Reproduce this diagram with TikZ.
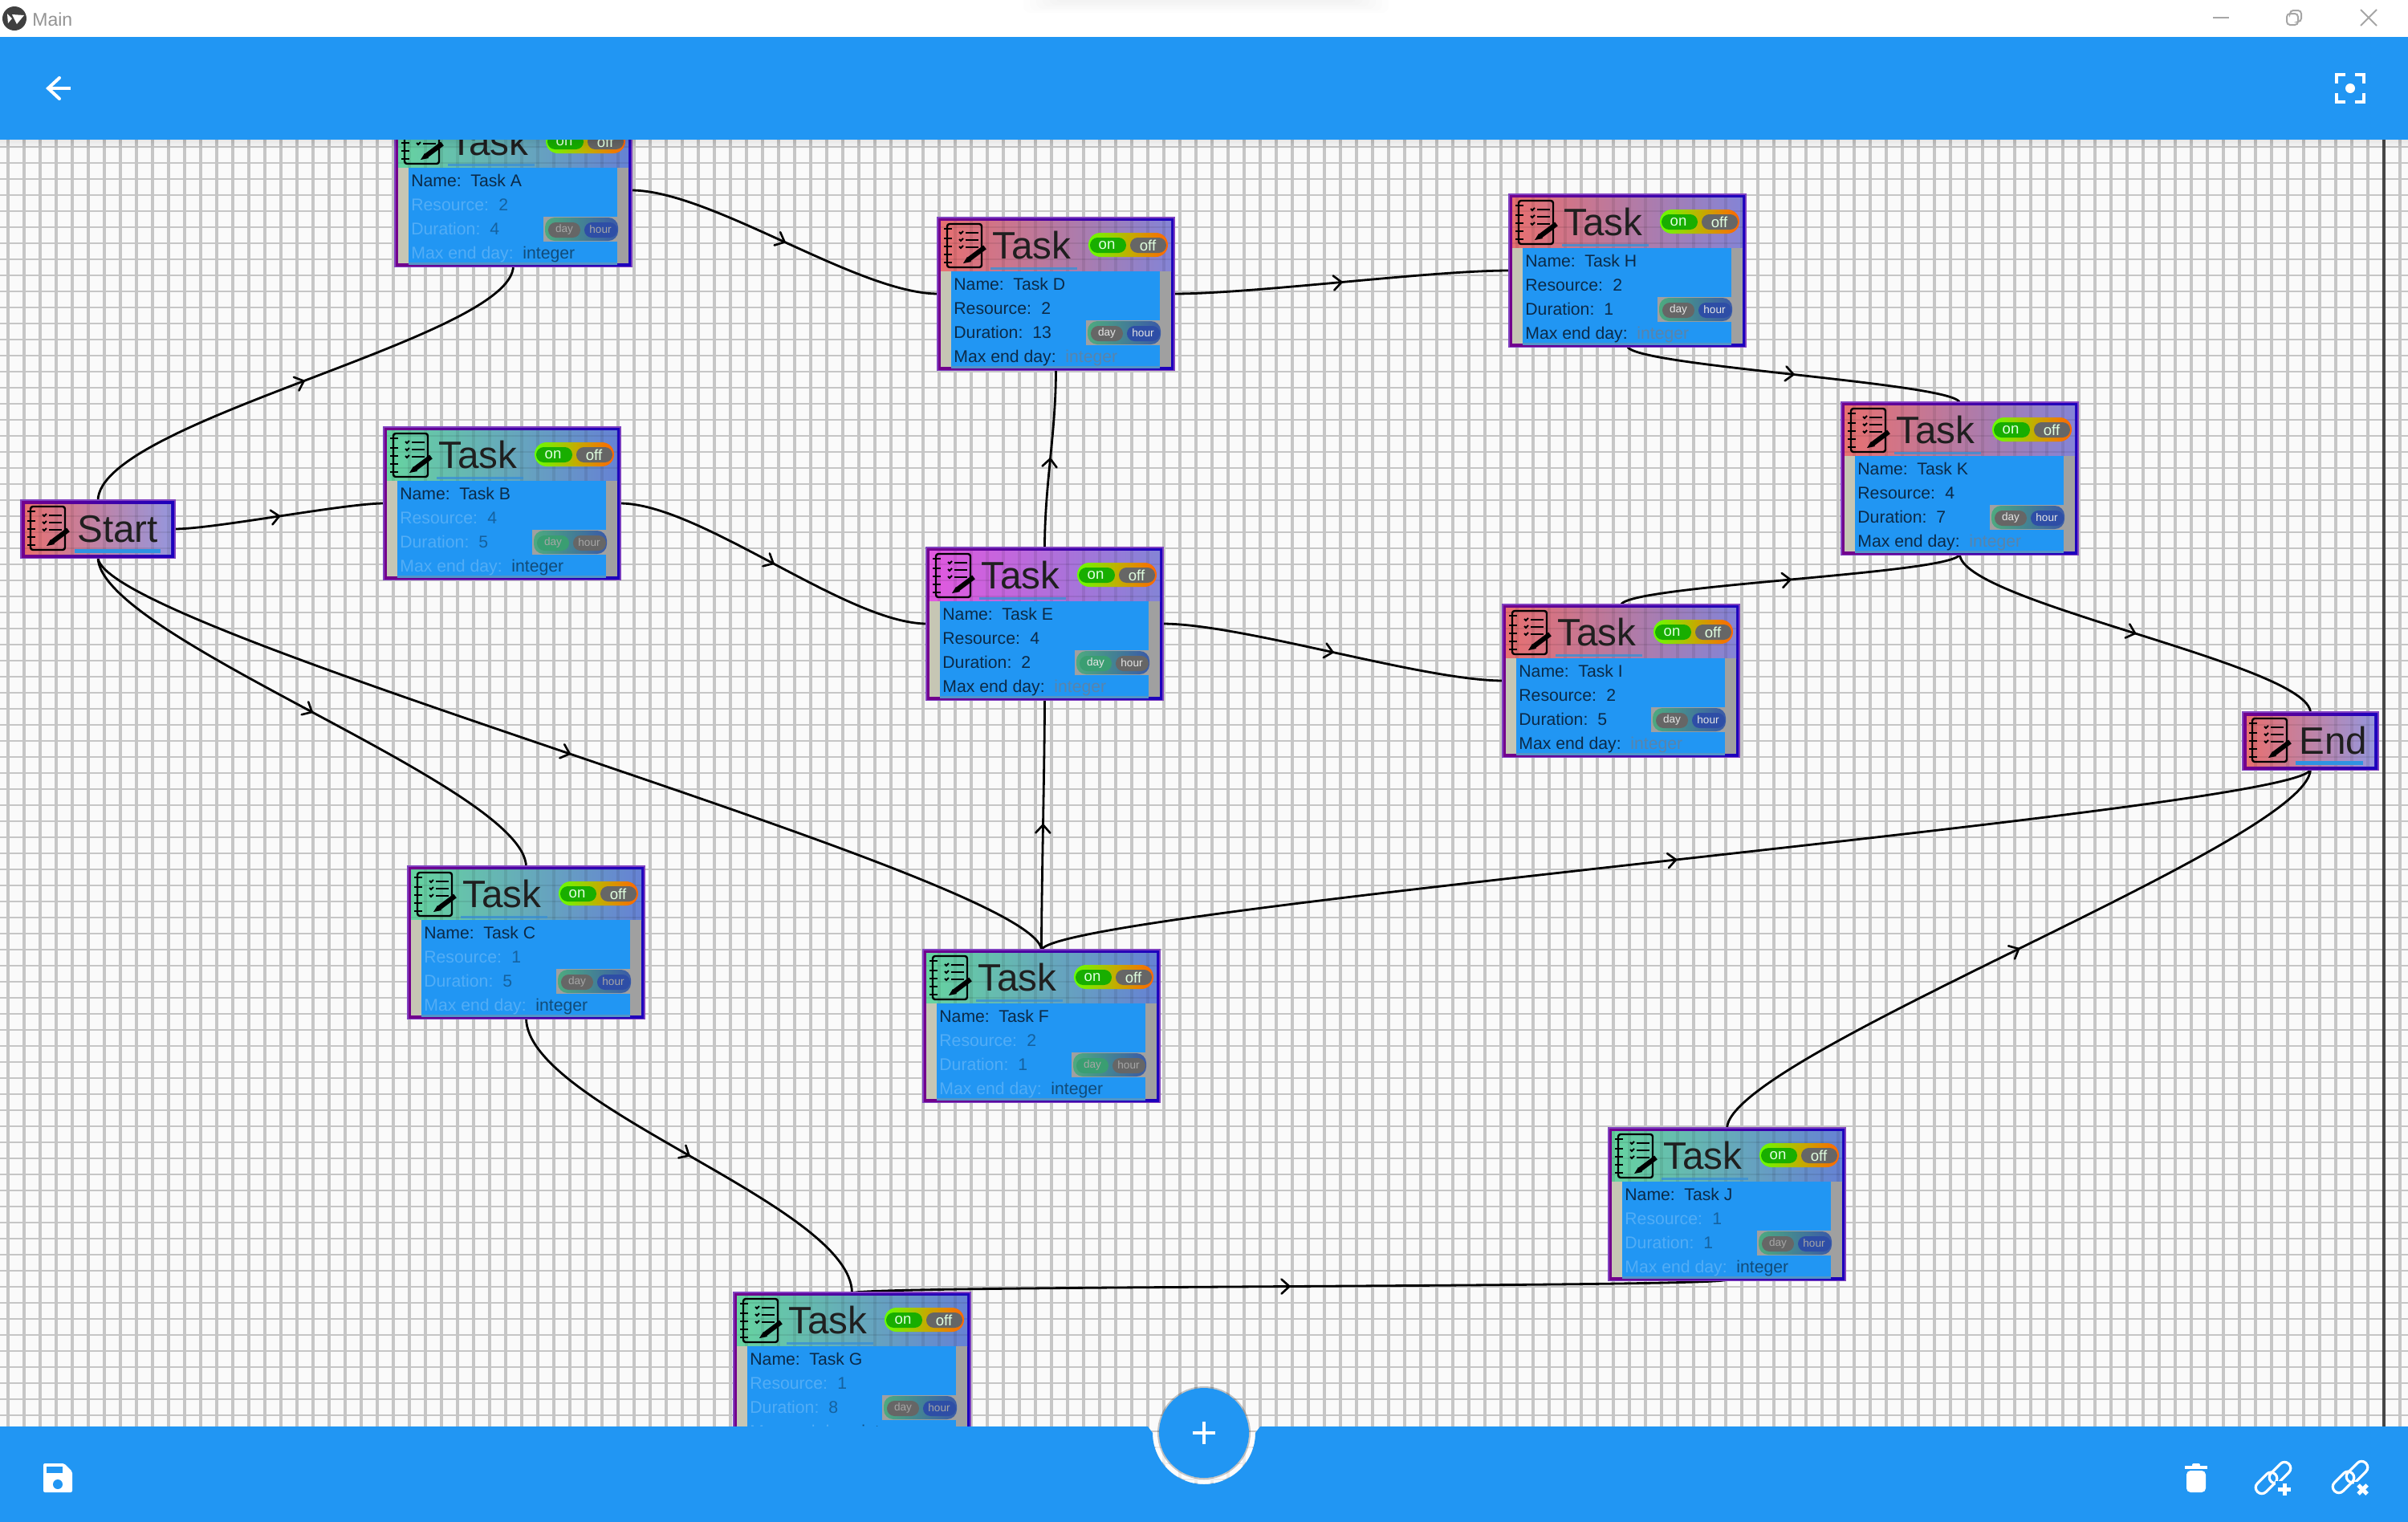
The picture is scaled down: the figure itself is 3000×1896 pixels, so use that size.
\documentclass[tikz,border=0pt]{standalone}
\usepackage{fontspec}
\setmainfont{Liberation Sans}
\usetikzlibrary{decorations.markings}
\pgfdeclarelayer{under}
\pgfsetlayers{under,main}
\definecolor{appblue}{HTML}{2196F3}
\definecolor{gridline}{HTML}{C6C6C6}
\definecolor{canvasbg}{HTML}{FAFAFA}
\definecolor{darktxt}{HTML}{0B2A48}
\definecolor{redL}{HTML}{E87070}
\definecolor{magL}{HTML}{E258E0}
\definecolor{greenL}{HTML}{66D4A0}
\definecolor{headR}{HTML}{8484D6}
\definecolor{headRg}{HTML}{6682D4}
\definecolor{limeedge}{HTML}{66FF00}
\definecolor{orangeedge}{HTML}{FF6600}
\definecolor{midedge}{HTML}{C0B000}
\definecolor{onpill}{HTML}{18AE00}
\definecolor{greypill}{HTML}{666666}
\definecolor{hourpill}{HTML}{2E4EA6}
\definecolor{daygreen}{HTML}{3A9E72}
\definecolor{togL}{HTML}{4DAA80}
\definecolor{togR}{HTML}{3A5AA8}
\definecolor{sideL}{HTML}{C6C6B4}
\definecolor{sideR}{HTML}{A0A0A0}
\definecolor{faintint}{HTML}{5A84AA}
\tikzset{
  x=0.5pt,y=-0.5pt,
  linkline/.style={draw=black,line width=1.4pt,line cap=round,
    postaction={decorate,decoration={markings,mark=at position 0.5 with {
      \draw[black,line width=1.3pt,line cap=round,line join=miter] (-10,-9) -- (0,0) -- (-10,9);}}}},
  taskbox/.style={anchor=north west,inner sep=0pt,outer sep=0pt,minimum width=146.5pt,minimum height=94pt},
  smallbox/.style={anchor=north west,inner sep=0pt,outer sep=0pt,minimum height=35pt},
  ttl/.style={anchor=base west,inner sep=0pt,text=black!88,font=\fontsize{23.8}{24}\selectfont},
  row/.style={anchor=base west,inner sep=0pt,font=\fontsize{10.6}{11}\selectfont},
  pilltxt/.style={anchor=center,inner sep=0pt,font=\fontsize{9.3}{10}\selectfont,text=white!88!green},
  minitxt/.style={anchor=center,inner sep=0pt,font=\fontsize{6.8}{7}\selectfont},
  wicon/.style={draw=white,line width=2pt},
  winbtn/.style={draw=black!35,line width=1pt}
}
\newcommand\overlaygrid{%
  \draw[black,opacity=.08,line width=1.8pt] \foreach \gx in {0,...,149} {(10+20*\gx,170) -- (10+20*\gx,1700)};
  \draw[black,opacity=.08,line width=.9pt] \foreach \gy in {0,...,80} {(0,183+20*\gy) -- (3000,183+20*\gy)};
}
\newcommand\notebook{%
  \draw[black,line width=1.2pt,rounded corners=1.5pt] (11,7) rectangle (54,61);
  \foreach \ty in {13,25,35,45,55}{\draw[black,line width=1.2pt] (7,\ty) -- (17,\ty);}
  \foreach \ty in {18,27,36}{
    \draw[black,line width=1pt] (26,\ty-1) -- (28,\ty+1) -- (31,\ty-2);
    \draw[black,line width=1pt] (34,\ty) -- (50,\ty);}
  \draw[black,line width=3pt] (38,51) -- (58,36);
  \fill[black] (31,56) -- (36,48) -- (41,54) -- cycle;
}
% #1 id, #2 x, #3 y, #4 letter, #5 resource, #6 duration, #7 left colour, #8 right colour, #9 mode
\newcommand\tasknode[9]{%
  \edef\tmode{#9}%
  \begin{scope}[shift={(#2,#3)}]
    \fill[white!35!violet!75!blue] (-2,-2) rectangle (295,190);
    \shade[left color=purple!60!blue,right color=blue!75!violet!85!black] (0,0) rectangle (293,188);
    \shade[left color=#7,right color=#8] (3,3) rectangle (290,66);
  \end{scope}
  \begin{scope}
    \clip (#2+3,#3+3) rectangle (#2+290,#3+66);
    \overlaygrid
  \end{scope}
  \begin{scope}[shift={(#2,#3)}]
    \ifnum\tmode<2
      \colorlet{lab}{darktxt}\colorlet{val}{darktxt}\colorlet{intc}{faintint}\colorlet{minitx}{white!90!black}
    \else
      \colorlet{lab}{white!22!appblue}\colorlet{val}{black!35!appblue}\colorlet{intc}{black!50!appblue}\colorlet{minitx}{white!30!gray}
    \fi
    \fill[sideL] (3,66) rectangle (18,185);
    \fill[sideR] (274,66) rectangle (290,185);
    \fill[appblue] (16,66) rectangle (276,186);
    \fill[appblue!75!black!75] (16,184) rectangle (276,187);
    \node[taskbox] (#1) at (0,0) {};
    \notebook
    \node[ttl] (#1title) at (67,50) {Task};
    \fill[appblue!75!gray,opacity=.8] (65,61) rectangle (173,64);
    % on / off
    \shade[left color=limeedge,right color=orangeedge,middle color=midedge,rounded corners=7.5pt] (187,18) rectangle (286,48);
    \fill[onpill,rounded corners=4.7pt] (189,24) rectangle (234,43);
    \fill[greypill,rounded corners=4.7pt] (239,24) rectangle (284,43);
    \node[pilltxt] (#1on) at (210,34) {on};
    \node[pilltxt] (#1off) at (261,34) {off};
    % rows
    \node[row,text=darktxt] (#1namel) at (19,89) {Name:};
    \node[row,text=darktxt] (#1namev) at (93,89) {Task #4};
    \node[row,text=lab] (#1resl) at (19,119) {Resource:};
    \node[row,text=val] (#1resv) at (128,119) {#5};
    \node[row,text=lab] (#1durl) at (19,149) {Duration:};
    \node[row,text=val] (#1durv) at (117,149) {#6};
    \node[row,text=lab] (#1maxl) at (19,179) {Max end day:};
    \node[row,text=intc] (#1maxv) at (158,179) {integer};
    % day / hour
    \fill[sideR] (184,127) rectangle (276,158);
    \shade[left color=togL,right color=togR,rounded corners=6pt] (186,128) rectangle (277,157);
    \ifodd\tmode
      \fill[daygreen,rounded corners=4.7pt] (190,134) rectangle (230,153);
      \fill[greypill,rounded corners=4.7pt] (235,134) rectangle (276,153);
    \else
      \fill[greypill,rounded corners=4.7pt] (190,134) rectangle (230,153);
      \fill[hourpill,rounded corners=4.7pt] (235,134) rectangle (276,153);
    \fi
    \node[minitxt,text=minitx] (#1day) at (210,143) {day};
    \node[minitxt,text=minitx] (#1hour) at (255,143) {hour};
  \end{scope}
}
% #1 id, #2 x, #3 y, #4 width, #5 label, #6 underline start
\newcommand\terminalnode[6]{%
  \begin{scope}[shift={(#2,#3)}]
    \fill[white!35!violet!75!blue] (-2,-2) rectangle (#4+2,72);
    \shade[left color=purple!60!blue,right color=blue!75!violet!85!black] (0,0) rectangle (#4,70);
    \shade[left color=redL,right color=headR!85!white] (4,4) rectangle (#4-4,66);
  \end{scope}
  \begin{scope}
    \clip (#2+4,#3+4) rectangle (#2+#4-4,#3+66);
    \overlaygrid
  \end{scope}
  \begin{scope}[shift={(#2,#3)}]
    \node[smallbox,minimum width=#4*0.5pt] (#1) at (0,0) {};
    \notebook
    \node[ttl] (#1title) at (69,51) {#5};
    \fill[appblue!85!gray] (#6,60) rectangle (#6+#4-83,65);
  \end{scope}
}
\begin{document}
\begin{tikzpicture}
\useasboundingbox (0,0) rectangle (3000,1896);
\clip (0,0) rectangle (3000,1896);

\begin{pgfonlayer}{under}
  \fill[canvasbg] (0,174) rectangle (3000,1860);
  \draw[gridline,line width=1.8pt] \foreach \gx in {0,...,149} {(10+20*\gx,174) -- (10+20*\gx,1860)};
  \draw[gridline,line width=.85pt] \foreach \gy in {0,...,84} {(0,183+20*\gy) -- (3000,183+20*\gy)};
  \draw[black!72,line width=2pt] (2970,174) -- (2970,1777);
\end{pgfonlayer}

\tasknode{A}{493}{143}{A}{2}{4}{greenL}{headRg}{2}
\tasknode{B}{479}{533}{B}{4}{5}{greenL}{headRg}{3}
\tasknode{C}{509}{1080}{C}{1}{5}{greenL}{headRg}{2}
\tasknode{D}{1169}{272}{D}{2}{13}{redL}{headR}{0}
\tasknode{E}{1155}{683}{E}{4}{2}{magL}{headR}{1}
\tasknode{F}{1151}{1184}{F}{2}{1}{greenL}{headRg}{3}
\tasknode{G}{915}{1611}{G}{1}{8}{greenL}{headRg}{2}
\tasknode{H}{1881}{243}{H}{2}{1}{redL}{headR}{0}
\tasknode{I}{1873}{754}{I}{2}{5}{redL}{headR}{0}
\tasknode{J}{2005}{1406}{J}{1}{1}{greenL}{headRg}{2}
\tasknode{K}{2295}{502}{K}{4}{7}{redL}{headR}{0}
\terminalnode{Start}{27}{624}{190}{Start}{66}
\terminalnode{End}{2795}{888}{167}{End}{65}

\begin{pgfonlayer}{under}
  \draw[linkline] (Start.north) .. controls +(0,-100) and +(0,90) .. (A.south);
  \draw[linkline] (Start.east) .. controls +(50,0) and +(-50,0) .. (B.west);
  \draw[linkline] (Start.south) .. controls +(0,100) and +(0,-100) .. (C.north);
  \draw[linkline] (Start.south) .. controls +(0,90) and +(0,-90) .. (F.north);
  \draw[linkline] (A.east) .. controls +(100,0) and +(-100,0) .. (D.west);
  \draw[linkline] (B.east) .. controls +(100,0) and +(-100,0) .. (E.west);
  \draw[linkline] (D.east) .. controls +(100,0) and +(-100,0) .. (H.west);
  \draw[linkline] (H.south) .. controls +(0,25) and +(0,-25) .. (K.north);
  \draw[linkline] (E.north) .. controls +(0,-80) and +(0,80) .. (D.south);
  \draw[linkline] (E.east) .. controls +(100,0) and +(-100,0) .. (I.west);
  \draw[linkline] (I.north) .. controls +(0,-25) and +(0,25) .. (K.south);
  \draw[linkline] (K.south) .. controls +(0,60) and +(0,-60) .. (End.north);
  \draw[linkline] (F.north) .. controls +(0,-80) and +(0,80) .. (E.south);
  \draw[linkline] (F.north) .. controls +(0,-50) and +(0,50) .. (End.south);
  \draw[linkline] (C.south) .. controls +(0,110) and +(0,-110) .. (G.north);
  \draw[linkline] (G.north) .. controls +(0,-10) and +(0,10) .. (J.south);
  \draw[linkline] (J.north) .. controls +(0,-90) and +(0,90) .. (End.south);
\end{pgfonlayer}

% title bar
\fill[white] (0,0) rectangle (3000,46);
\foreach \k in {0,...,5}{
  \fill[black,opacity=.008,rounded corners=4pt] (1275+\k*8,-20) rectangle (1730-\k*8,16-\k*2.5);
}
\fill[black!75] (18,23) circle[radius=15];
\fill[white] (9,17) -- (15,23) -- (10,29) -- cycle;
\fill[white] (15,18) -- (30,19) -- (21,30) -- cycle;
\node[anchor=base west,inner sep=0pt,text=black!42,font=\fontsize{11.5}{12}\selectfont] (apptitle) at (40,32) {Main};
\draw[winbtn] (2757,22) -- (2777,22);
\draw[winbtn,rounded corners=2pt] (2849,17) rectangle (2863,31);
\draw[winbtn,rounded corners=2pt] (2853,16) -- (2853,13) -- (2867,13) -- (2867,27) -- (2864,27);
\draw[winbtn] (2941,12) -- (2961,32) (2941,32) -- (2961,12);

% top bar
\fill[appblue] (0,46) rectangle (3000,174);
\foreach \k in {1,...,6}{\fill[black,opacity=.012] (0,174) rectangle (3000,174+\k*2);}
\draw[wicon,line cap=butt] (88,110) -- (60,110);
\draw[wicon,line cap=round] (74,97) -- (60,110) -- (74,123);
\draw[wicon,line cap=butt] (2911,104) -- (2911,93) -- (2922,93) (2934,93) -- (2945,93) -- (2945,104)
  (2945,116) -- (2945,127) -- (2934,127) (2922,127) -- (2911,127) -- (2911,116);
\fill[white] (2928,110) circle[radius=6];

% bottom bar with notch
\fill[appblue] (0,1777) -- (1430,1777) -- (1436,1785) arc[start angle=180,delta angle=-180,radius=64] -- (1570,1777) -- (3000,1777) -- (3000,1896) -- (0,1896) -- cycle;
\begin{scope}
  \clip (1400,1790) rectangle (1600,1860);
  \fill[white,opacity=.7] (1500,1785) circle[radius=63];
\end{scope}
\fill[black,opacity=.22] (1500,1785) circle[radius=58];
\fill[appblue] (1500,1785) circle[radius=56];
\draw[wicon] (1486,1785) -- (1514,1785) (1500,1771) -- (1500,1799);

% save
\fill[white,rounded corners=1pt] (54,1823) -- (80,1823) -- (90,1833) -- (90,1859) -- (54,1859) -- cycle;
\fill[appblue] (58,1827) rectangle (78,1835);
\fill[appblue] (72,1849) circle[radius=6];
% trash
\fill[white] (2722,1825.5) rectangle (2750,1829.5);
\fill[white,rounded corners=1pt] (2731,1823) rectangle (2741,1827);
\fill[white,rounded corners=2.5pt] (2724,1832) -- (2748,1832) -- (2748,1859) -- (2724,1859) -- cycle;
% link plus
\begin{scope}[shift={(2832,1841)},rotate=45]
  \draw[white,line width=1.6pt,rounded corners=3.6pt] (-26,-9) rectangle (5,6);
  \draw[white,line width=1.6pt,rounded corners=3.6pt] (-5,-6) rectangle (26,9);
\end{scope}
\fill[appblue] (2835,1845) rectangle (2858,1868);
\draw[white,line width=2.5pt] (2838,1855.5) -- (2854,1855.5) (2846,1848) -- (2846,1863);
% link x
\begin{scope}[shift={(2928,1840)},rotate=45]
  \draw[white,line width=1.6pt,rounded corners=3.6pt] (-26,-9) rectangle (5,6);
  \draw[white,line width=1.6pt,rounded corners=3.6pt] (-5,-6) rectangle (26,9);
\end{scope}
\fill[appblue] (2933,1846) rectangle (2954,1866);
\draw[white,line width=2.5pt] (2938,1850) -- (2949,1861) (2938,1861) -- (2949,1850);
\end{tikzpicture}
\end{document}
